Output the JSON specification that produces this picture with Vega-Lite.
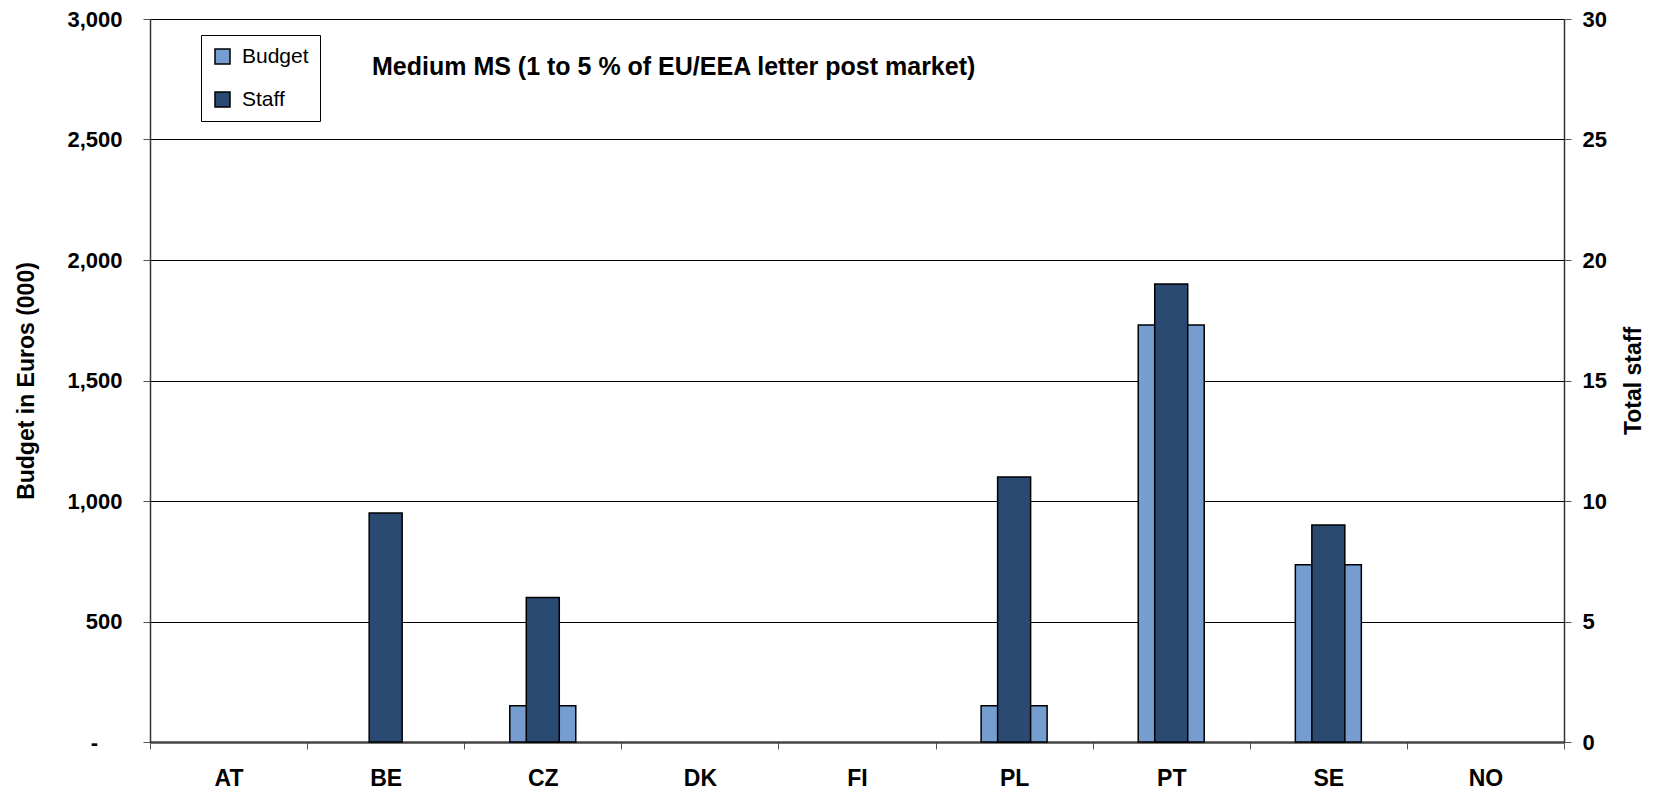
{
  "$schema": "https://vega.github.io/schema/vega-lite/v6.json",
  "width": 1414,
  "height": 723,
  "autosize": {"type": "none"},
  "padding": {"left": 150, "top": 19, "right": 92, "bottom": 47},
  "background": "white",
  "config": {"font": "Liberation Sans", "view": {"stroke": null}},
  "title": {
    "text": "Medium MS (1 to 5 % of EU/EEA letter post market)",
    "anchor": "start",
    "frame": "group",
    "orient": "top",
    "dx": 222,
    "offset": -84,
    "fontSize": 25,
    "fontWeight": "bold",
    "color": "black",
    "baseline": "middle"
  },
  "data": {
    "values": [
      {"country": "AT", "budget": null, "staff": null},
      {"country": "BE", "budget": null, "staff": 9.5},
      {"country": "CZ", "budget": 150, "staff": 6},
      {"country": "DK", "budget": null, "staff": null},
      {"country": "FI", "budget": null, "staff": null},
      {"country": "PL", "budget": 150, "staff": 11},
      {"country": "PT", "budget": 1730, "staff": 19},
      {"country": "SE", "budget": 735, "staff": 9},
      {"country": "NO", "budget": null, "staff": null}
    ]
  },
  "layer": [
    {
      "mark": {"type": "bar", "width": {"band": 0.42}, "stroke": "black", "strokeWidth": 1.5},
      "encoding": {
        "x": {
          "field": "country",
          "type": "nominal",
          "sort": null,
          "scale": {"domain": ["AT", "BE", "CZ", "DK", "FI", "PL", "PT", "SE", "NO"], "paddingInner": 0, "paddingOuter": 0},
          "axis": {
            "title": null,
            "tickBand": "extent",
            "labelAngle": 0,
            "labelFontSize": 23,
            "labelFontWeight": "bold",
            "labelColor": "black",
            "labelPadding": 18,
            "tickSize": 7,
            "tickColor": "#555555",
            "domainColor": "#444444",
            "domainWidth": 2.5
          }
        },
        "y": {
          "field": "budget",
          "type": "quantitative",
          "scale": {"domain": [0, 3000], "nice": false},
          "axis": {
            "title": "Budget in Euros (000)",
            "values": [0, 500, 1000, 1500, 2000, 2500, 3000],
            "labelExpr": "datum.value == 0 ? '-\u00a0\u00a0\u00a0\u00a0\u200b' : format(datum.value, ',')",
            "labelFontSize": 22,
            "labelFontWeight": "bold",
            "labelColor": "black",
            "labelPadding": 21,
            "tickSize": 7,
            "tickColor": "#555555",
            "domainColor": "#333333",
            "domainWidth": 1.5,
            "grid": true,
            "gridColor": "black",
            "gridWidth": 1,
            "gridOpacity": 1,
            "titleFontSize": 23,
            "titleFontWeight": "bold",
            "titleColor": "black",
            "titlePadding": 28
          }
        },
        "color": {
          "datum": "Budget",
          "type": "nominal",
          "scale": {"domain": ["Budget", "Staff"], "range": ["#759DCF", "#2A4A72"]},
          "legend": {
            "title": null,
            "orient": "none",
            "legendX": 51,
            "legendY": 16,
            "symbolType": "square",
            "symbolSize": 225,
            "symbolStrokeColor": "black",
            "symbolStrokeWidth": 1.5,
            "symbolOpacity": 1,
            "labelFontSize": 21,
            "labelColor": "black",
            "labelOffset": 9,
            "strokeColor": "black",
            "fillColor": "white",
            "padding": 11,
            "rowPadding": 21
          }
        }
      }
    },
    {
      "mark": {"type": "bar", "width": {"band": 0.21}, "stroke": "black", "strokeWidth": 1.5},
      "encoding": {
        "x": {"field": "country", "type": "nominal", "sort": null},
        "y": {
          "field": "staff",
          "type": "quantitative",
          "scale": {"domain": [0, 30], "nice": false},
          "axis": {
            "orient": "right",
            "title": "Total staff",
            "values": [0, 5, 10, 15, 20, 25, 30],
            "grid": false,
            "labelFontSize": 22,
            "labelFontWeight": "bold",
            "labelColor": "black",
            "labelPadding": 11,
            "tickSize": 7,
            "tickColor": "#555555",
            "domainColor": "#333333",
            "domainWidth": 1.5,
            "titleAngle": 270,
            "titleFontSize": 23,
            "titleFontWeight": "bold",
            "titleColor": "black",
            "titlePadding": 39
          }
        },
        "color": {"datum": "Staff", "type": "nominal"}
      }
    }
  ],
  "resolve": {"scale": {"y": "independent"}}
}
